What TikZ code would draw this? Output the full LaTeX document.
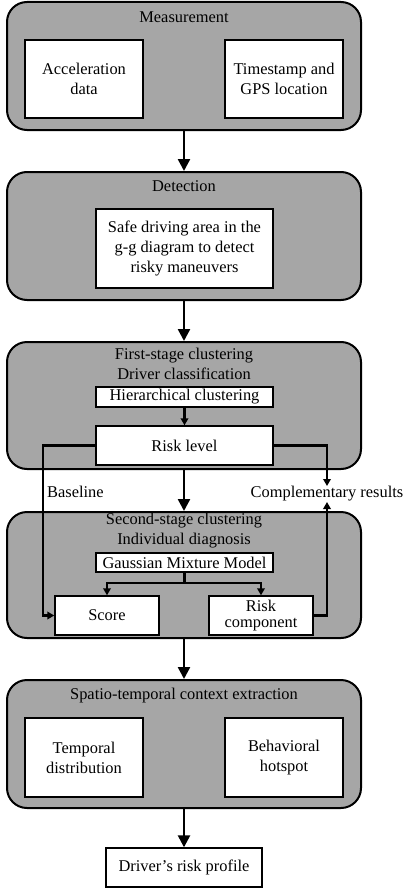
\documentclass[tikz,border=0pt]{standalone}
\usepackage{fontspec}
\setmainfont{Liberation Serif}
\usetikzlibrary{arrows.meta}
\definecolor{boxgray}{RGB}{166,166,166}
\begin{document}
\begin{tikzpicture}[x=1pt,y=-1pt,
  font=\fontsize{16.4}{20}\selectfont,
  outerbox/.style={draw, fill=boxgray, rounded corners=20pt, line width=2pt, minimum width=354pt, inner sep=0pt},
  innerbox/.style={draw, fill=white, line width=1.4pt, inner sep=0pt, align=center},
  mainarrow/.style={line width=2.5pt, -{Triangle[width=12pt,length=12pt]}},
  smallarrow/.style={line width=2.2pt, -{Triangle[width=7.5pt,length=7pt]}},
  plainline/.style={line width=2.2pt},
  title/.style={inner sep=0pt, align=center}]
\useasboundingbox (0,0) rectangle (404,888);
% outer boxes
\node[outerbox, minimum height=128pt] (meas) at (184,66) {};
\node[outerbox, minimum height=128pt] (det) at (184,236) {};
\node[outerbox, minimum height=127pt] (first) at (184,405.5) {};
\node[outerbox, minimum height=126pt] (second) at (184,575) {};
\node[outerbox, minimum height=128pt] (spat) at (184,744) {};
% titles
\node[title] (tmeas) at (184,17) {Measurement};
\node[title] (tdet) at (184,186) {Detection};
\node[title] (tfirst) at (184,363.5) {First-stage clustering\\Driver classification};
\node[title] (tsecond) at (184,531) {Second-stage clustering\\Individual diagnosis};
\node[title] (tspat) at (184,696) {Spatio-temporal context extraction};
% inner boxes
\node[innerbox, minimum width=118pt, minimum height=78pt] (acc) at (84,79) {Acceleration\\data};
\node[innerbox, minimum width=118pt, minimum height=78pt] (ts) at (284,79) {Timestamp and\\GPS location};
\node[innerbox, minimum width=177pt, minimum height=79pt] (safe) at (184.5,248.5) {Safe driving area in the\\g-g diagram to detect\\risky maneuvers};
\node[innerbox, minimum width=177pt, minimum height=20pt] (hier) at (184.5,397) {Hierarchical clustering};
\node[innerbox, minimum width=177pt, minimum height=39pt] (risk) at (184.5,445.5) {Risk level};
\node[innerbox, minimum width=177pt, minimum height=19pt] (gmm) at (184.5,562.5) {Gaussian Mixture Model};
\node[innerbox, minimum width=104pt, minimum height=39pt] (score) at (107,615.5) {Score};
\node[innerbox, minimum width=104pt, minimum height=39pt, font=\fontsize{16.4}{16}\selectfont] (rc) at (261,615.5) {Risk\\component};
\node[innerbox, minimum width=118pt, minimum height=79pt] (temp) at (84,757.5) {Temporal\\distribution};
\node[innerbox, minimum width=118pt, minimum height=79pt] (beh) at (284,757.5) {Behavioral\\hotspot};
\node[innerbox, minimum width=156pt, minimum height=39pt] (prof) at (184,867.5) {Driver’s risk profile};
% labels
\node[title, anchor=west] (bltxt) at (47,492) {Baseline};
\node[title] (comptxt) at (327,494) {Complementary results};
% coordinates
\coordinate (bl) at (43,530);
\coordinate (c1) at (327,486);
\coordinate (c2) at (327,502);
\coordinate (g) at (184.5,583);
% main arrows
\draw[mainarrow] (meas.south) -- (det.north);
\draw[mainarrow] (det.south) -- (first.north);
\draw[mainarrow] (first.south) -- (second.north);
\draw[mainarrow] (second.south) -- (spat.north);
\draw[mainarrow] (spat.south) -- (prof.north);
% inner connectors
\draw[smallarrow] (hier.south) -- (risk.north);
\draw[smallarrow] (risk.west) -| (bl) |- (score.west);
\draw[smallarrow] (risk.east) -| (c1);
\draw[smallarrow] (rc.east) -| (c2);
\draw[plainline] (gmm.south) -- (g);
\draw[smallarrow] (g) -| (score.north);
\draw[smallarrow] (g) -| (rc.north);
\end{tikzpicture}
\end{document}
